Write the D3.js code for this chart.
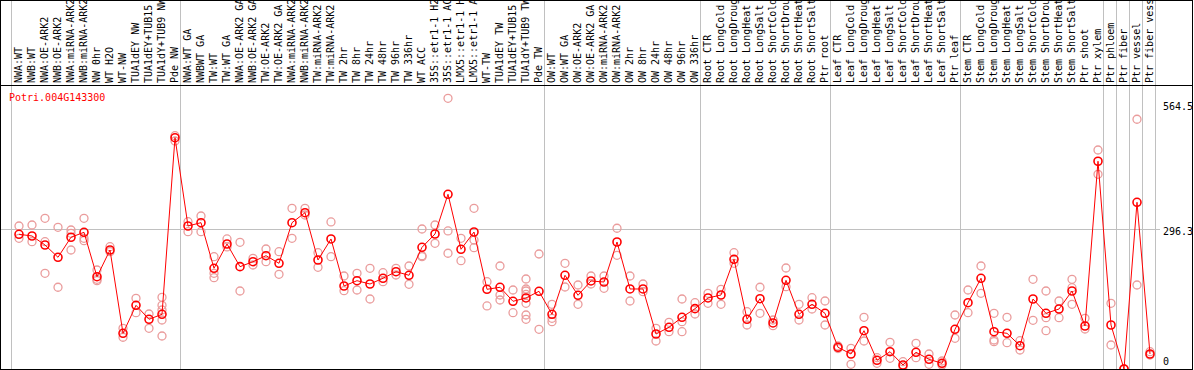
<!DOCTYPE html>
<html>
<head>
<meta charset="utf-8">
<script src="https://cdn.jsdelivr.net/npm/d3@7"></script>
<style>
  body { margin: 0; background: #fff; }
  text { font-family: "DejaVu Sans Mono", monospace; font-size: 10px; }
</style>
</head>
<body>
<svg id="mainSvg" width="1194" height="370"></svg>
<script>
const gene = "Potri.004G143300";

const samples = [
  "NWA:WT", "NWB:WT", "NWA:OE-ARK2", "NWB:OE-ARK2", "NWA:miRNA-ARK2", "NWB:miRNA-ARK2",
  "NW 0hr", "WT H2O", "WT-NW", "TUA1dEY NW", "TUA1dEY+TUB15 NW", "TUA1dY+TUB9 NW", "Pde NW",
  "NWA:WT GA", "NWBWT GA", "TW:WT", "TW:WT GA", "NWA:OE-ARK2 GA", "NWB:OE-ARK2 GA",
  "TW:OE-ARK2", "TW:OE-ARK2 GA", "NWA:miRNA-ARK2 GA", "NWB:miRNA-ARK2 GA", "TW:miRNA-ARK2",
  "TW:miRNA-ARK2 GA", "TW 2hr", "TW 8hr", "TW 24hr", "TW 48hr", "TW 96hr", "TW 336hr", "WT ACC",
  "35S::etr1-1 H2O", "35S::etr1-1 ACC", "LMX5::etr1-1 H2O", "LMX5::etr1-1 ACC", "WT-TW",
  "TUA1dEY TW", "TUA1dEY+TUB15 TW", "TUA1dY+TUB9 TW", "Pde TW",
  "OW:WT", "OW:WT GA", "OW:OE-ARK2", "OW:OE-ARK2 GA", "OW:miRNA-ARK2", "OW:miRNA-ARK2 GA",
  "OW 2hr", "OW 8hr", "OW 24hr", "OW 48hr", "OW 96hr", "OW 336hr",
  "Root CTR", "Root LongCold", "Root LongDrought", "Root LongHeat", "Root LongSalt",
  "Root ShortCold", "Root ShortDrought", "Root ShortHeat", "Root ShortSalt", "Ptr root",
  "Leaf CTR", "Leaf LongCold", "Leaf LongDrought", "Leaf LongHeat", "Leaf LongSalt",
  "Leaf ShortCold", "Leaf ShortDrought", "Leaf ShortHeat", "Leaf ShortSalt", "Ptr leaf",
  "Stem CTR", "Stem LongCold", "Stem LongDrought", "Stem LongHeat", "Stem LongSalt",
  "Stem ShortCold", "Stem ShortDrought", "Stem ShortHeat", "Stem ShortSalt", "Ptr shoot", "Ptr xylem",
  "Ptr phloem", "Ptr fiber", "Ptr vessel", "Ptr fiber vessel"
];

// index of first sample in each tissue block
const groupStarts = [0, 13, 41, 53, 63, 73, 84, 85, 86, 87];

const means = [
  284.5, 280.9, 261.9, 235.9, 278.2, 288.7, 194.9, 251.3, 75.4, 134.5, 105.0, 115.5, 488.5,
  302.0, 309.0, 212.7, 264.0, 216.1, 226.6, 239.3, 223.2, 309.0, 330.1, 230.2, 274.6, 175.3,
  186.5, 179.5, 191.6, 205.5, 197.9, 257.0, 285.1, 369.0, 252.8, 289.3, 168.3, 172.6, 143.0,
  150.0, 164.1,
  115.5, 197.9, 155.7, 185.9, 183.7, 268.2, 169.0, 169.0, 73.9, 88.1, 109.2, 127.4,
  150.0, 156.3, 231.7, 105.0, 148.5, 97.2, 187.3, 115.5, 136.6, 117.6,
  45.8, 31.7, 80.9, 18.4, 36.5, 8.4, 35.3, 20.5, 12.0, 83.8,
  140.0, 191.6, 78.8, 75.4, 49.2, 147.8, 117.6, 126.7, 164.7, 90.8, 438.7,
  92.9, 0, 352.1, 31.7
];

const reps = [
  [302.0, 276.0], [304.1, 268.9], [318.3, 268.9, 202.1], [299.3, 172.6], [293.6, 286.6, 251.3],
  [318.3, 276.0, 271.0], [209.1, 189.4, 186.5], [258.3, 247.7], [86.0, 67.0], [149.3, 118.9],
  [116.2, 86.0], [151.4, 134.5, 124.6, 103.5, 69.7], [492.7, 481.5],
  [311.1, 290.0], [323.1, 290.0], [237.2, 202.1, 192.8], [274.6, 257.7], [267.6, 164.7],
  [233.8, 219.6], [253.4, 226.6], [247.7, 200.0], [339.4, 276.0], [339.4, 325.2], [245.6, 214.8],
  [310.5, 237.2], [196.4, 165.4], [202.1, 166.8], [212.7, 147.8], [203.4, 184.4], [212.7, 198.5],
  [217.5, 178.9], [295.7, 239.3, 237.2], [304.1, 265.5], [571.7, 291.5, 244.4], [276.0, 228.7],
  [339.4, 272.4, 256.2], [184.4, 133.1], [217.5, 156.3, 145.7], [166.8, 118.9],
  [190.1, 169.0, 164.7, 157.8, 138.8, 114.0, 105.0], [242.9, 83.8],
  [136.6, 107.1, 99.9], [223.2, 173.2], [177.4, 136.6], [196.4, 179.5], [196.4, 170.4],
  [297.2, 240.1], [196.4, 143.6], [179.5, 163.3], [86.0, 59.1], [98.6, 78.8],
  [147.8, 99.9, 78.8], [140.0, 116.2],
  [159.9, 138.8], [168.3, 136.6], [245.6, 223.2], [121.0, 92.9], [172.6, 117.6], [103.5, 91.4],
  [213.3, 173.8], [136.6, 103.5], [150.6, 126.7], [143.6, 92.9],
  [48.6, 43.3], [43.7, 9.9], [109.2, 59.1], [23.9, 12.0], [56.4, 22.6], [15.4, 4.9], [54.3, 23.9],
  [31.7, 9.9], [16.9, 8.4], [114.0, 64.8],
  [166.8, 118.9], [217.5, 159.9], [117.6, 61.2, 57.7], [109.2, 55.5], [59.8, 40.1], [189.4, 102.9],
  [164.7, 108.3, 80.9], [143.6, 108.3], [189.4, 171.7, 136.6], [107.1, 84.5], [462.5, 411.2],
  [138.8, 50.7], [0, 0], [527.4, 177.4], [36.5, 29.6]
];

const yTicks = [0, 296.3, 564.5];

let svg = d3.select('#mainSvg');
const right = 1192.5, bottom = 369, split = 85.5;

let x = d3.scaleLinear().domain([0, samples.length - 1]).range([19, 1150]);
let y = d3.scaleLinear().domain([0, 564.5]).range([bottom, 101.7]);

// vertical grid lines between tissue blocks
let vlines = groupStarts.map(i => Math.round(x(i) - 8) + 0.5);
vlines.push(Math.round(x(samples.length - 1) + 5) + 0.5);
svg.selectAll('.vgrid').data(vlines).enter().append('line')
  .attr('x1', d => d).attr('x2', d => d)
  .attr('y1', 0).attr('y2', bottom)
  .attr('stroke', '#c0c0c0');

// horizontal grid line
svg.append('line')
  .attr('x1', 1).attr('x2', 1160)
  .attr('y1', Math.round(y(296.3)) + 0.5).attr('y2', Math.round(y(296.3)) + 0.5)
  .attr('stroke', '#c0c0c0');

// sample labels
svg.selectAll('.lab').data(samples).enter().append('text')
  .attr('transform', (d, i) => `translate(${x(i) - 0.5},83) rotate(-90)`)
  .attr('dominant-baseline', 'central')
  .attr('fill', '#000')
  .text(d => d);

// frame
svg.append('line').attr('x1', 0).attr('x2', right).attr('y1', split).attr('y2', split).attr('stroke', '#000');
svg.append('rect').attr('x', 0.5).attr('y', 0.5).attr('width', right - 0.5).attr('height', bottom)
  .attr('fill', 'none').attr('stroke', '#000');

// y tick labels
svg.selectAll('.ytick').data(yTicks).enter().append('text')
  .attr('x', 1163)
  .attr('y', d => d == 0 ? bottom - 2 : (d == 564.5 ? y(d) + 1.5 : y(d) - 1))
  .attr('dominant-baseline', d => d == 0 ? 'text-after-edge' : 'hanging')
  .attr('fill', '#000')
  .text(d => d);

svg.append('text').attr('x', 9).attr('y', 97.5)
  .attr('dominant-baseline', 'central')
  .attr('fill', '#ff0000')
  .text(gene);

svg.append('clipPath').attr('id', 'plotClip').append('rect')
  .attr('x', 1).attr('y', split + 0.5).attr('width', right - 1.5).attr('height', bottom - split - 0.5);
let plot = svg.append('g').attr('clip-path', 'url(#plotClip)');

let repPts = [];
reps.forEach((r, i) => r.forEach(v => repPts.push([i, v])));
plot.selectAll('.rep').data(repPts).enter().append('circle')
  .attr('cx', d => x(d[0])).attr('cy', d => y(d[1])).attr('r', 4)
  .attr('fill', 'none').attr('stroke', '#ea9c9c').attr('stroke-width', 1.3);

let line = d3.line().x((d, i) => x(i)).y(d => y(d));
plot.append('path').attr('d', line(means))
  .attr('fill', 'none').attr('stroke', '#ff0000').attr('stroke-width', 1);

plot.selectAll('.mean').data(means).enter().append('circle')
  .attr('cx', (d, i) => x(i)).attr('cy', d => y(d)).attr('r', 4)
  .attr('fill', 'none').attr('stroke', '#ff0000').attr('stroke-width', 1.6);
</script>
</body>
</html>
